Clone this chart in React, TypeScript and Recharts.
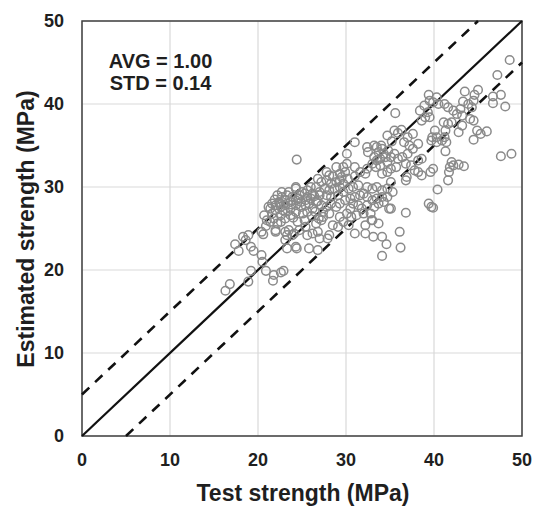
// Estimated vs test strength — scatter with 1:1 and ±5 MPa bounds

import {
  ScatterChart,
  Scatter,
  XAxis,
  YAxis,
  CartesianGrid,
  ReferenceLine,
  ReferenceArea,
} from "recharts"

type Pt = [number, number] // [test, estimated] in MPa

const lowerLeft: Pt[] = [
  [16.3, 17.5], [16.8, 18.3], [17.4, 23.1], [17.8, 22.3], [18.3, 24.0], [18.6, 23.6],
  [18.9, 24.2], [18.9, 18.6], [19.2, 19.9], [19.2, 22.8], [19.5, 22.3], [20.4, 21.8],
  [20.5, 21.0], [20.4, 24.6], [20.6, 24.3], [20.9, 19.9], [21.7, 18.7], [20.7, 26.6],
  [20.9, 25.3], [21.0, 26.0], [21.4, 25.8], [21.6, 26.8], [21.6, 28.0],
]

const coreCluster: Pt[] = [
  [22.0, 27.8], [22.4, 28.2], [22.7, 28.8], [23.1, 28.4], [23.5, 29.4], [23.9, 28.8],
  [24.3, 29.8], [24.7, 29.0], [25.3, 29.2], [25.6, 28.8], [26.0, 28.6], [25.4, 28.4],
  [24.9, 28.2], [24.3, 28.4], [23.7, 28.2], [23.1, 27.8], [22.6, 27.6], [22.0, 27.2],
  [21.8, 26.2], [22.2, 25.6], [22.6, 26.6], [23.1, 27.0], [23.7, 27.4], [24.3, 27.8],
  [24.9, 27.6], [25.4, 27.8], [25.8, 28.0], [26.2, 27.4], [25.6, 27.0], [25.1, 26.8],
  [24.3, 27.0], [23.7, 26.6], [23.1, 26.2], [22.6, 25.8], [22.0, 24.8], [22.7, 29.4],
  [22.2, 29.0], [24.3, 30.0], [25.6, 29.6], [26.0, 30.0], [24.5, 25.8], [25.3, 26.0],
  [25.4, 25.2], [24.7, 24.8], [24.1, 24.4], [23.5, 24.8], [23.3, 24.2], [23.1, 23.6],
  [23.3, 22.6], [24.3, 22.8], [25.6, 24.2], [26.2, 24.4], [26.8, 24.6], [27.0, 23.8],
  [26.8, 22.4], [25.8, 22.6], [27.9, 23.8], [26.6, 25.6], [27.2, 26.0], [27.4, 26.4],
  [22.6, 19.7], [22.9, 19.9], [21.8, 19.4], [22.0, 24.6], [23.1, 24.6], [23.9, 24.2],
  [24.4, 22.6], [21.9, 28.5], [22.5, 28.0], [23.3, 29.0], [23.8, 27.9], [24.6, 28.6],
  [25.0, 29.4], [26.4, 28.9], [26.8, 28.3], [21.4, 27.4], [22.8, 27.2], [24.0, 26.3],
  [26.1, 26.5], [26.5, 27.0], [21.2, 27.6], [27.0, 29.0], [26.9, 26.2],
]

const midCluster: Pt[] = [
  [26.8, 31.0], [27.2, 30.6], [27.8, 30.8], [28.3, 30.4], [28.9, 30.6], [29.3, 30.8],
  [29.7, 30.4], [29.3, 30.0], [28.7, 29.8], [28.1, 29.6], [27.6, 29.8], [27.0, 29.4],
  [26.6, 30.0], [26.2, 29.2], [27.8, 29.0], [28.3, 28.8], [29.1, 29.0], [29.7, 29.4],
  [30.3, 29.8], [30.8, 30.0], [31.4, 30.2], [32.0, 29.2], [32.4, 30.0], [33.0, 29.8],
  [33.5, 30.0], [34.1, 29.6], [34.7, 29.8], [35.3, 29.4], [35.1, 30.6], [34.7, 28.8],
  [34.1, 28.8], [33.5, 28.6], [33.0, 28.4], [32.4, 28.8], [31.6, 29.0], [31.0, 28.8],
  [30.5, 28.6], [29.9, 28.4], [29.3, 28.0], [28.9, 27.6], [28.3, 28.0], [27.8, 27.6],
  [27.2, 27.8], [26.6, 28.2], [27.4, 27.0], [28.1, 26.8], [30.8, 28.0], [31.4, 27.8],
  [31.8, 27.4], [32.4, 27.8], [33.2, 27.6], [33.7, 28.0], [34.3, 28.2], [34.9, 27.4],
  [30.5, 27.4], [30.1, 26.8], [30.6, 26.4], [31.2, 26.6], [32.0, 26.8], [32.8, 26.8],
  [33.0, 26.0], [33.7, 25.6], [32.2, 25.4], [29.3, 26.4], [29.7, 25.8], [29.1, 25.2],
  [28.5, 25.4], [30.3, 25.4], [28.1, 24.2], [29.5, 31.2], [28.5, 31.3], [30.2, 31.0],
  [31.0, 31.3],
]

const lowerRight: Pt[] = [
  [35.1, 27.4], [36.8, 26.9], [36.1, 24.6], [36.2, 22.7], [34.6, 23.1], [34.1, 24.0],
  [34.1, 21.7], [31.0, 24.4], [32.2, 24.4], [33.1, 24.0], [32.9, 26.0], [39.4, 28.0],
  [39.7, 27.6], [39.9, 27.5], [40.4, 29.7],
]

const upperMid: Pt[] = [
  [35.6, 38.9], [34.7, 36.2], [35.5, 36.8], [35.9, 36.5], [37.6, 36.4], [36.6, 35.4],
  [37.2, 35.0], [37.6, 34.6], [38.2, 35.2], [31.0, 35.4], [30.1, 34.0], [32.4, 34.8],
  [32.5, 34.2], [33.5, 34.8], [33.7, 34.2], [34.1, 34.6], [34.3, 34.0], [33.2, 33.6],
  [33.5, 33.2], [33.9, 33.4], [34.5, 33.6], [33.0, 32.8], [33.4, 32.4], [33.9, 32.6],
  [34.7, 33.0], [35.1, 33.6], [35.5, 34.0], [35.9, 33.4], [36.4, 33.6], [37.0, 34.0],
  [36.8, 32.8], [37.4, 32.6], [38.2, 33.2], [38.6, 33.4], [37.8, 32.0], [38.2, 31.8],
  [38.6, 31.4], [36.8, 30.8], [36.9, 31.2], [35.7, 32.4], [35.1, 32.2], [34.7, 31.8],
  [34.1, 31.6], [32.4, 32.2], [32.2, 31.6], [31.6, 31.8], [31.0, 32.4], [30.1, 32.8],
  [29.7, 32.4], [28.9, 32.4], [29.3, 31.6], [29.9, 31.8], [27.8, 31.8], [28.1, 31.4],
  [34.0, 35.0], [34.8, 34.4], [33.2, 35.0], [35.2, 35.5], [36.3, 36.9], [37.0, 36.0],
  [24.4, 33.3],
]

const upperRight: Pt[] = [
  [48.6, 45.3], [47.2, 43.5], [47.6, 41.1], [46.7, 40.9], [46.7, 40.1], [48.1, 39.7],
  [47.6, 33.7], [48.8, 34.0], [46.0, 36.7], [45.3, 36.4], [44.9, 36.8], [44.5, 35.7],
  [45.0, 41.7], [44.6, 41.1], [43.5, 41.5], [43.3, 40.3], [43.9, 40.0], [44.3, 39.6],
  [44.5, 40.4], [43.0, 39.4], [42.6, 38.8], [43.2, 38.6], [44.1, 38.2], [44.5, 38.0],
  [43.2, 37.4], [42.8, 36.6], [42.2, 39.2], [41.6, 39.6], [41.2, 40.0], [42.0, 37.8],
  [41.6, 37.6], [41.1, 37.8], [41.3, 36.8], [40.5, 40.0], [40.3, 40.8], [39.9, 40.2],
  [39.5, 40.4], [39.4, 41.1], [38.9, 39.8], [38.4, 39.2], [39.3, 39.0], [39.5, 38.4],
  [39.0, 38.4], [38.6, 38.0], [40.1, 36.8], [40.3, 36.0], [39.8, 36.0], [39.7, 35.6],
  [40.3, 35.4], [40.9, 35.6], [41.2, 36.0], [41.4, 35.4], [41.3, 34.3], [42.0, 33.0],
  [41.8, 32.4], [42.2, 32.6], [42.8, 32.7], [43.4, 32.5], [41.7, 31.8], [41.6, 30.8],
  [39.9, 32.2], [39.6, 31.8],
]

const axisTicks = [0, 10, 20, 30, 40, 50]
const bandOffset = 5 // ±5 MPa lines
const statLines = ["AVG = 1.00", "STD = 0.14"]

const data = [...lowerLeft, ...coreCluster, ...midCluster, ...lowerRight, ...upperMid, ...upperRight]
  .map(([test, est]) => ({ test, est }))

const FONT = "'Liberation Sans', Arial, sans-serif"
const tickStyle = { fill: "#1f1f1f", fontSize: 18, fontWeight: 700, fontFamily: FONT }

function Ring(props: { cx?: number; cy?: number }) {
  if (props.cx == null || props.cy == null) return null
  return <circle cx={props.cx} cy={props.cy} r={4.3} fill="none" stroke="#8a8a8a" strokeWidth={1.5} />
}

export default function App() {
  return (
    <div style={{ position: "absolute", left: 0, top: 0, width: 533, height: 508, background: "#fff" }}>
      <ScatterChart width={533} height={508} margin={{ top: 21, right: 11, bottom: 0, left: 0 }}>
        <CartesianGrid stroke="#d9d9d9" strokeWidth={1.2} />
        <XAxis
          type="number"
          dataKey="test"
          domain={[0, 50]}
          ticks={axisTicks}
          height={72}
          tick={tickStyle}
          tickLine={false}
          tickSize={0}
          tickMargin={17}
          axisLine={false}
          allowDataOverflow
        />
        <YAxis
          type="number"
          dataKey="est"
          domain={[0, 50]}
          ticks={axisTicks}
          width={82}
          tick={tickStyle}
          tickLine={false}
          tickSize={0}
          tickMargin={18}
          axisLine={false}
          allowDataOverflow
        />
        <Scatter data={data} shape={<Ring />} isAnimationActive={false} />
        <ReferenceLine segment={[{ x: 0, y: 0 }, { x: 50, y: 50 }]} stroke="#111" strokeWidth={2.2} />
        <ReferenceLine
          segment={[{ x: 0, y: bandOffset }, { x: 50 - bandOffset, y: 50 }]}
          stroke="#111"
          strokeWidth={2.6}
          strokeDasharray="10 8"
        />
        <ReferenceLine
          segment={[{ x: bandOffset, y: 0 }, { x: 50, y: 50 - bandOffset }]}
          stroke="#111"
          strokeWidth={2.6}
          strokeDasharray="10 8"
        />
        <ReferenceArea x1={0} x2={50} y1={0} y2={50} fill="none" stroke="#404040" strokeWidth={1.5} fillOpacity={0} />
      </ScatterChart>

      {statLines.map((s, i) => (
        <div
          key={s}
          style={{
            position: "absolute",
            left: 160.5,
            top: 60.5 + i * 22.5,
            transform: "translate(-50%, -50%)",
            fontFamily: FONT,
            fontWeight: 700,
            fontSize: 20,
            lineHeight: 1,
            color: "#1f1f1f",
            whiteSpace: "nowrap",
          }}
        >
          {s}
        </div>
      ))}

      <div
        style={{
          position: "absolute",
          left: 303,
          top: 493,
          transform: "translate(-50%, -50%)",
          fontFamily: FONT,
          fontWeight: 700,
          fontSize: 23,
          lineHeight: 1,
          color: "#1f1f1f",
          whiteSpace: "nowrap",
        }}
      >
        Test strength (MPa)
      </div>
      <div
        style={{
          position: "absolute",
          left: 26,
          top: 229,
          transform: "translate(-50%, -50%) rotate(-90deg)",
          fontFamily: FONT,
          fontWeight: 700,
          fontSize: 23,
          lineHeight: 1,
          color: "#1f1f1f",
          whiteSpace: "nowrap",
        }}
      >
        Estimated strength (MPa)
      </div>
    </div>
  )
}
